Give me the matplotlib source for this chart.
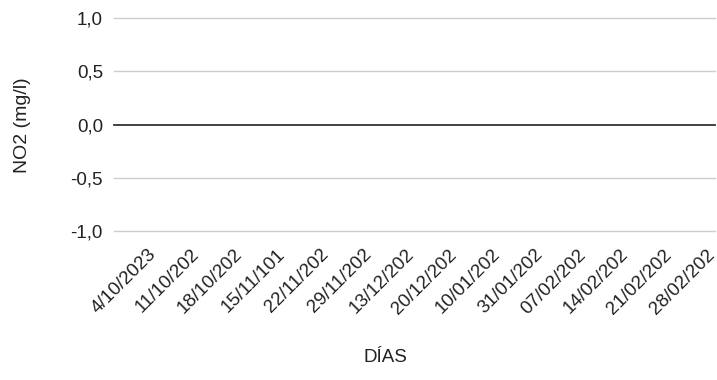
import numpy as np
import matplotlib.pyplot as plt
import matplotlib.transforms as mtransforms

plt.rcParams['font.family'] = ['Liberation Sans', 'DejaVu Sans']

# fechas de muestreo (etiquetas tal cual, recortadas)
dias = ['4/10/2023', '11/10/202', '18/10/202', '15/11/101', '22/11/202',
        '29/11/202', '13/12/202', '20/12/202', '10/01/202', '31/01/202',
        '07/02/202', '14/02/202', '21/02/202', '28/02/202']
# sin mediciones registradas
no2 = [np.nan] * len(dias)
yticks = [-1.0, -0.5, 0.0, 0.5, 1.0]

fig = plt.figure(figsize=(7.17, 3.8), dpi=100)
ax = fig.add_axes([0.159, 0.392, 0.838, 0.5606])

x = np.arange(len(dias))
ax.plot(x, no2, color='#4285f4', lw=2)

ax.set_xlim(-0.5, len(dias) - 0.5)
ax.set_ylim(-1.0, 1.0)
ax.set_yticks(yticks)
ax.set_yticklabels([f'{v:.1f}'.replace('.', ',') for v in yticks])
for v in yticks:
    ax.axhline(v, color='#333333' if v == 0 else '#cccccc',
               lw=1.3 if v == 0 else 1, zorder=0, clip_on=False)

# etiquetas del eje x giradas 45 grados, ancladas arriba a la derecha
ax.set_xticks(x)
ax.set_xticklabels([])
trans = mtransforms.blended_transform_factory(ax.transData, ax.transAxes)
trans = trans + mtransforms.ScaledTranslation(0.125, -0.15, fig.dpi_scale_trans)
for xi, d in zip(x, dias):
    ax.text(xi, 0, d, transform=trans, rotation=45, rotation_mode='anchor',
            ha='right', va='top', fontsize=13.5, color='#222222', clip_on=False)

ax.tick_params(axis='y', length=0, labelsize=13.5, colors='#222222', pad=8)
ax.tick_params(axis='x', length=0)
for s in ax.spines.values():
    s.set_visible(False)

fig.text(0.031, 0.671, 'NO2 (mg/l)', fontsize=14, color='#222222',
         rotation=90, ha='center', va='center')
fig.text(0.537, 0.058, 'DÍAS', fontsize=13.5, color='#222222', ha='center', va='center')

fig.savefig('out.png', dpi=100)
